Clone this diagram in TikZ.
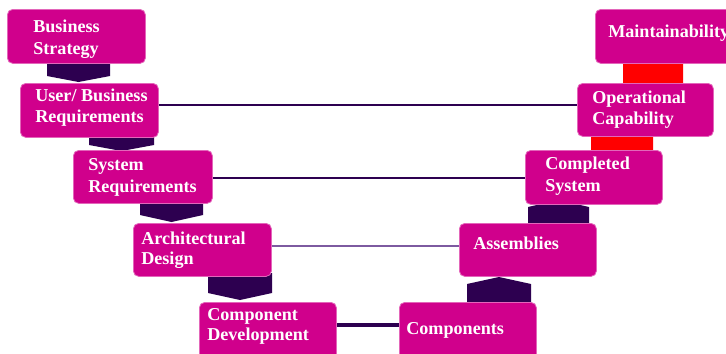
\documentclass[tikz,border=0pt]{standalone}
\usepackage{fontspec}
\setmainfont{Liberation Serif}
\begin{document}
\definecolor{vmag}{RGB}{208,0,140}
\definecolor{vdark}{RGB}{45,0,80}
\definecolor{vlight}{RGB}{125,90,160}
\definecolor{vred}{RGB}{255,0,0}
\begin{tikzpicture}[x=0.75pt,y=-0.75pt,
  box/.style={fill=vmag,draw=vmag!60!white,line width=0.6pt,rounded corners=4pt,anchor=north west,inner sep=0pt},
  sz/.style 2 args={minimum width=#1*0.75pt,minimum height=#2*0.75pt},
  lbl/.style={anchor=base west,inner sep=0pt,text=white,font=\bfseries\fontsize{13.6}{16}\selectfont},
  link/.style={draw=vdark,line width=2pt},
  thin link/.style={draw=vlight,line width=1.6pt},
  thick link/.style={draw=vdark,line width=2.6pt},
  downarrow/.style={fill=vdark},
  uparrow/.style={fill=vdark},
  redarrow/.style={fill=vred}]
\useasboundingbox (0,0) rectangle (726,354);
\clip (0,0) rectangle (726,354);
\fill[white] (0,0) rectangle (726,354);

% stage connectors (drawn first, boxes sit on top)
\fill[downarrow] (47,60) -- (47,76) -- (78.5,82) -- (110,76) -- (110,60) -- cycle;
\fill[downarrow] (89,134) -- (89,145) -- (121.5,151) -- (154,145) -- (154,134) -- cycle;
\fill[downarrow] (140,200) -- (140,215) -- (171.5,222) -- (203,215) -- (203,200) -- cycle;
\fill[downarrow] (208,273) -- (208,293) -- (240,300) -- (272,293) -- (272,273) -- cycle;
\fill[uparrow] (467,305) -- (467,284) -- (499,277) -- (531,284) -- (531,305) -- cycle;
\fill[uparrow] (528,226) -- (528,207) -- (558.5,200) -- (589,207) -- (589,226) -- cycle;
\fill[redarrow] (591,153) -- (591,135) .. controls (606,129) and (638,129) .. (653,135) -- (653,153) -- cycle;
\fill[redarrow] (623,86) -- (623,62) .. controls (638,55) and (668,55) .. (683,62) -- (683,86) -- cycle;

% boxes, left arm
\node[box,sz={138}{54}] (bs)  at (7,9)    {};
\node[box,sz={138}{54}] (ubr) at (20,83)  {};
\node[box,sz={139}{53}] (sr)  at (73,150) {};
\node[box,sz={138}{53}] (ad)  at (133,223) {};
\node[box,sz={137}{60}] (cd)  at (199,302) {};
% boxes, right arm
\node[box,sz={137}{60}] (cmp) at (399,302) {};
\node[box,sz={137}{53}] (asm) at (459,223) {};
\node[box,sz={137}{54}] (cs)  at (525,150) {};
\node[box,sz={136}{53}] (opc) at (577,83)  {};
\node[box,sz={145}{54}] (mnt) at (595,9)   {};

% labels
\node[lbl] (tbs1) at (33,32)   {Business};
\node[lbl] (tbs2) at (33,54)   {Strategy};
\node[lbl] (tub1) at (35,101)  {User/ Business};
\node[lbl] (tub2) at (35,122)  {Requirements};
\node[lbl] (tsr1) at (88,170)  {System};
\node[lbl] (tsr2) at (88,192)  {Requirements};
\node[lbl] (tad1) at (141,244) {Architectural};
\node[lbl] (tad2) at (141,264) {Design};
\node[lbl] (tcd1) at (207,320) {Component};
\node[lbl] (tcd2) at (207,340) {Development};
\node[lbl] (tcm)  at (406,334) {Components};
\node[lbl] (tas)  at (473,249) {Assemblies};
\node[lbl] (tcs1) at (545,169) {Completed};
\node[lbl] (tcs2) at (545,191) {System};
\node[lbl] (top1) at (592,103) {Operational};
\node[lbl] (top2) at (592,124) {Capability};
\node[lbl] (tmn)  at (608,37)  {Maintainability};

% verification links across the V
\coordinate (r1) at (0,105);
\coordinate (r2) at (0,178);
\coordinate (r3) at (0,246);
\coordinate (r4) at (0,325);
\draw[link]       (ubr.east |- r1) -- (opc.west |- r1);
\draw[link]       (sr.east |- r2)  -- (cs.west |- r2);
\draw[thin link]  (ad.east |- r3)  -- (asm.west |- r3);
\draw[thick link] (cd.east |- r4)  -- (cmp.west |- r4);
\end{tikzpicture}
\end{document}
